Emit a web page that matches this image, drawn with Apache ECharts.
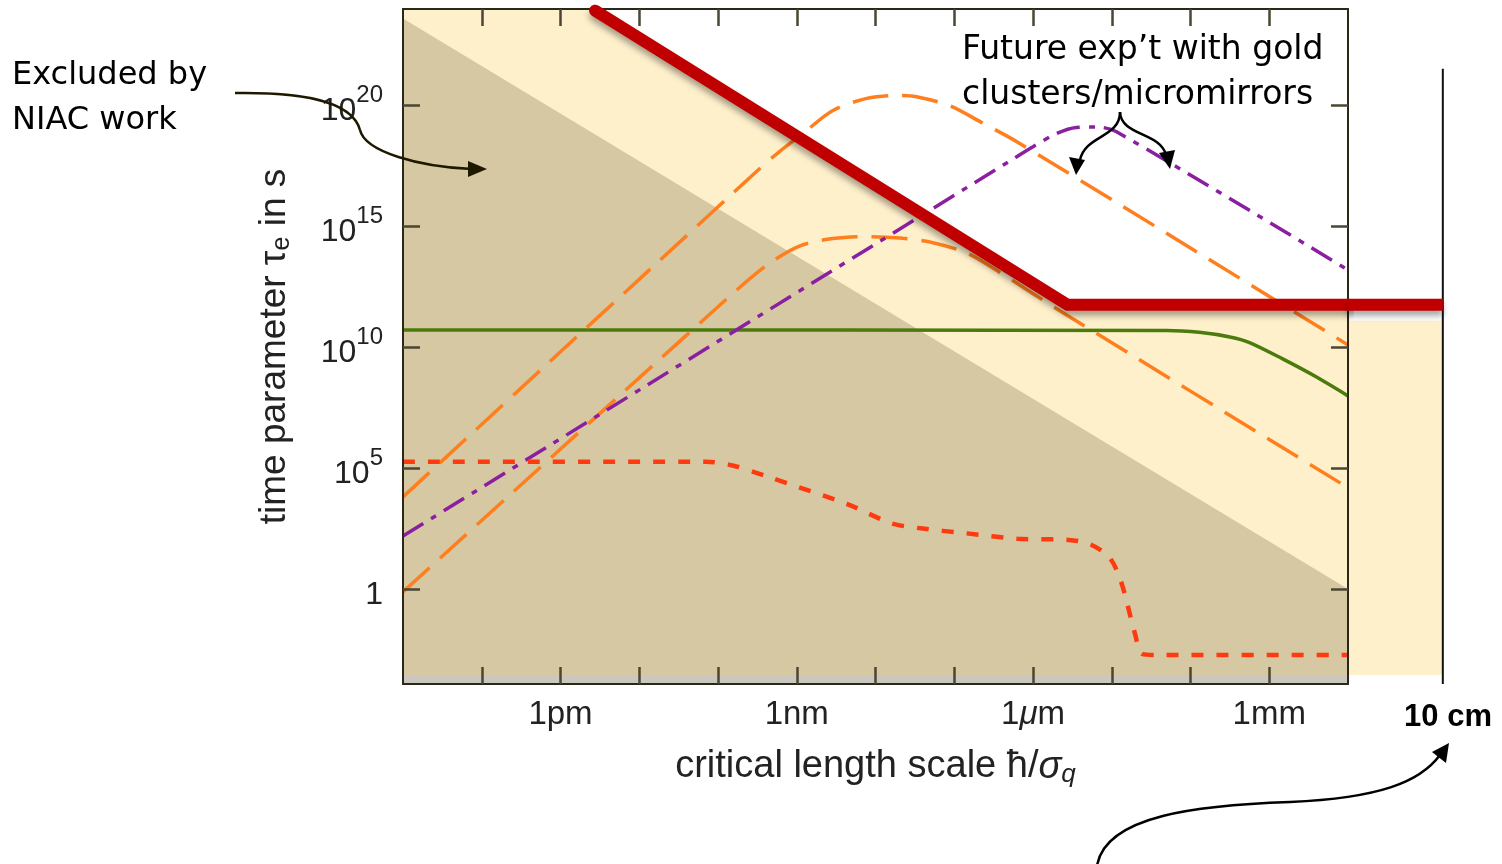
<!DOCTYPE html>
<html>
<head>
<meta charset="utf-8">
<script src="https://cdn.jsdelivr.net/npm/echarts@6/dist/echarts.min.js"></script>
<style>
  html, body { margin: 0; padding: 0; background: #fff; }
  #chart { width: 1502px; height: 864px; }
</style>
</head>
<body>
<div id="chart"></div>
<script>
// axis ranges: critical length in m, time in s
const xRange = [1e-14, 1e-2];
const yRange = [1.17e-4, 1e24];
const xTickValues = [1e-13, 1e-12, 1e-11, 1e-10, 1e-9, 1e-8, 1e-7, 1e-6, 1e-5, 1e-4, 1e-3];
const xLabelValues = [1e-12, 1e-9, 1e-6, 1e-3];
const xLabelNames = ['1pm', '1nm', '1{i|μ}m', '1mm'];
const yTickValues = [1, 1e5, 1e10, 1e15, 1e20];

// shaded regions
const excludedEdge = [[1e-14, 4e23], [1e-2, 1]];
const allowedEdge = [[1e-14, 1e24], [2.6e-12, 1e24], [2.75e-6, 5.75e11], [1e-2, 5.75e11]];
const floorBand = [[1e-14, 2.75e-4], [1e-2, 2.75e-4]];

// thick red bound (NIAC) and its extension out to 10 cm
const niacBound = [[2.75e-12, 8.5e23], [2.75e-6, 5.75e11], [1e-2, 5.75e11]];
const niacBoundExt = [[1e-2, 5.75e11], [0.16, 5.75e11]];
const allowedExt = [[1e-2, 1.26e11], [0.16, 1.26e11]];
const edgeLine = [[0.16, 3.4e21], [0.16, 1.17e-4]];

// curves
const greenCurve = [
  [1e-14, 5.25e10], [5.01e-5, 5.01e10], [1.29e-4, 4.17e10], [3.16e-4, 2.69e10],
  [5.62e-4, 1.58e10], [1.48e-3, 3.31e9], [3.98e-3, 5.89e8], [1e-2, 9.77e7]
];
const redDotted = [
  [1e-14, 1.86e5], [7.08e-11, 1.86e5], [1.58e-10, 1.26e5], [3.98e-10, 4.79e4],
  [4.47e-9, 3.16e3], [1.58e-8, 525], [3.55e-8, 331], [1.45e-7, 200],
  [6.31e-7, 120], [2.82e-6, 107], [5.25e-6, 72.4], [9.33e-6, 20.4],
  [1.32e-5, 1.91], [1.95e-5, 0.0162], [2.45e-5, 2.04e-3], [3.55e-5, 1.86e-3],
  [1e-2, 1.86e-3]
];
const orangeUpper = [
  [1e-14, 6.46e3], [3.16e-10, 2.04e17], [6.03e-10, 1.26e18], [1.2e-9, 7.08e18],
  [2.88e-9, 6.31e19], [7.76e-9, 2e20], [2.04e-8, 2.63e20], [3.31e-8, 2.34e20],
  [8.71e-8, 1e20], [2.29e-7, 1.91e19], [6.31e-7, 3.16e18], [1e-2, 1.26e10]
];
const orangeLower = [
  [1e-14, 0.76], [1.29e-10, 1e12], [4.17e-10, 2.51e13], [1.1e-9, 1.58e14],
  [2.88e-9, 3.16e14], [7.76e-9, 3.8e14], [2.04e-8, 3.31e14], [5.37e-8, 2.14e14],
  [1.45e-7, 7.94e13], [3.8e-7, 1.26e13], [1e-6, 1.66e12], [3.16e-6, 1.55e11],
  [1e-2, 1.55e4]
];
const purpleCurve = [
  [1e-14, 155], [5.01e-7, 5.01e17], [1e-6, 2e18], [2e-6, 7.08e18],
  [3.55e-6, 1.26e19], [6.31e-6, 1.32e19], [1.15e-5, 8.32e18], [1e-2, 1.58e13]
];

const FONT = "'Liberation Sans', Arial, sans-serif";
const NOTE_FONT = "'DejaVu Sans', Verdana, sans-serif";
const frameLine = { color: '#2b2719', width: 2 };
const tickLine = { color: '#4b4533', width: 2.5 };

const chart = echarts.init(document.getElementById('chart'));

function curve(data, color, width, dash) {
  return {
    type: 'line', data: data, xAxisIndex: 0, yAxisIndex: 0,
    symbol: 'none', smooth: 0.3, silent: true, z: 3,
    lineStyle: { color: color, width: width, type: dash, cap: 'butt' }
  };
}

function band(data, color, axisIdx) {
  return {
    type: 'line', data: data, xAxisIndex: axisIdx, yAxisIndex: axisIdx,
    symbol: 'none', silent: true, z: 1,
    lineStyle: { width: 0, opacity: 0 },
    areaStyle: { color: color, opacity: 1, origin: 'start' }
  };
}

function xLabel(v) {
  const i = xLabelValues.findIndex(t => Math.abs(Math.log10(t) - Math.log10(v)) < 0.01);
  return i >= 0 ? xLabelNames[i] : '';
}

function yLabel(v) {
  const e = Math.round(Math.log10(v));
  return e === 0 ? '{b|1}' : '{b|10}{s|' + e + '}';
}

const option = {
  animation: false,
  backgroundColor: '#fff',
  grid: [
    { left: 403, right: 154, top: 9, bottom: 180, outerBoundsMode: 'none' },
    { left: 1348, right: 40, top: 9, bottom: 189, outerBoundsMode: 'none' }
  ],
  xAxis: [
    {
      type: 'log', gridIndex: 0, position: 'bottom', min: xRange[0], max: xRange[1], z: 4,
      axisLine: { show: true, onZero: false, lineStyle: frameLine },
      axisTick: { show: true, inside: true, length: 17, customValues: xTickValues, lineStyle: tickLine },
      minorTick: { show: false },
      splitLine: { show: false },
      axisLabel: {
        customValues: xLabelValues, formatter: xLabel, margin: 14,
        fontSize: 33, fontFamily: FONT, color: '#222',
        rich: { i: { fontSize: 33, fontFamily: FONT, fontStyle: 'italic', color: '#222' } }
      },
      name: '{t|critical length scale ħ/}{i|σ}{q|q}',
      nameLocation: 'middle', nameGap: 62, nameMoveOverlap: false,
      nameTextStyle: {
        fontSize: 38, fontFamily: FONT, color: '#222', lineHeight: 42,
        rich: {
          t: { fontSize: 38, fontFamily: FONT, color: '#222', lineHeight: 42 },
          i: { fontSize: 38, fontFamily: FONT, color: '#222', fontStyle: 'italic', lineHeight: 42 },
          q: { fontSize: 26, fontFamily: FONT, color: '#222', fontStyle: 'italic', lineHeight: 24, verticalAlign: 'bottom' }
        }
      }
    },
    {
      type: 'log', gridIndex: 0, position: 'top', min: xRange[0], max: xRange[1], z: 4,
      axisLine: { show: true, onZero: false, lineStyle: frameLine },
      axisTick: { show: true, inside: true, length: 17, customValues: xTickValues, lineStyle: tickLine },
      minorTick: { show: false },
      splitLine: { show: false },
      axisLabel: { show: false }
    },
    { type: 'log', gridIndex: 1, min: 1e-2, max: 0.2804, show: false }
  ],
  yAxis: [
    {
      type: 'log', gridIndex: 0, position: 'left', min: yRange[0], max: yRange[1], z: 4,
      axisLine: { show: true, onZero: false, lineStyle: frameLine },
      axisTick: { show: true, inside: true, length: 17, customValues: yTickValues, lineStyle: tickLine },
      minorTick: { show: false },
      splitLine: { show: false },
      axisLabel: {
        customValues: yTickValues, formatter: yLabel, margin: 20,
        rich: {
          b: { fontSize: 32, fontFamily: FONT, color: '#222', lineHeight: 44, verticalAlign: 'bottom' },
          s: { fontSize: 24, fontFamily: FONT, color: '#222', lineHeight: 14, verticalAlign: 'top' }
        }
      },
      name: '{t|time parameter τ}{e|e}{t| in s}',
      nameLocation: 'middle', nameGap: 108, nameMoveOverlap: false,
      nameTextStyle: {
        fontSize: 37, fontFamily: FONT, color: '#222', lineHeight: 40,
        rich: {
          t: { fontSize: 37, fontFamily: FONT, color: '#222', lineHeight: 40 },
          e: { fontSize: 25, fontFamily: FONT, color: '#222', lineHeight: 22, verticalAlign: 'bottom' }
        }
      }
    },
    {
      type: 'log', gridIndex: 0, position: 'right', min: yRange[0], max: yRange[1], z: 4,
      axisLine: { show: true, onZero: false, lineStyle: frameLine },
      axisTick: { show: true, inside: true, length: 17, customValues: yTickValues, lineStyle: tickLine },
      minorTick: { show: false },
      splitLine: { show: false },
      axisLabel: { show: false }
    },
    { type: 'log', gridIndex: 1, min: 2.75e-4, max: 1e24, show: false }
  ],
  series: [
    band(allowedEdge, '#fff0cc', 0),
    band(excludedEdge, '#d6c8a2', 0),
    band(floorBand, '#cbc7be', 0),
    band(allowedExt, '#fff0cc', 2),
    curve(greenCurve, '#4b7b0c', 3.5, 'solid'),
    curve(orangeUpper, '#ff7f1e', 3.5, [36, 14]),
    curve(orangeLower, '#ff7f1e', 3.5, [36, 14]),
    curve(purpleCurve, '#8a20a0', 3.5, [24, 9, 6, 9]),
    curve(redDotted, '#ff3a10', 4.5, [12, 13]),
    {
      type: 'line', data: niacBound, xAxisIndex: 0, yAxisIndex: 0,
      symbol: 'none', silent: true, z: 6,
      lineStyle: { color: '#c00000', width: 12, cap: 'round', join: 'miter',
        shadowColor: 'rgba(0,0,0,0.35)', shadowBlur: 6, shadowOffsetY: 5 }
    },
    {
      type: 'line', data: niacBoundExt, xAxisIndex: 2, yAxisIndex: 2,
      symbol: 'none', silent: true, z: 6, clip: false,
      lineStyle: { color: '#c00000', width: 12, cap: 'butt',
        shadowColor: 'rgba(0,0,0,0.35)', shadowBlur: 6, shadowOffsetY: 5 }
    },
    {
      type: 'line', data: edgeLine, xAxisIndex: 2, yAxisIndex: 2,
      symbol: 'none', silent: true, z: 5, clip: false,
      lineStyle: { color: '#111', width: 2 }
    }
  ],
  graphic: [
    { type: 'text', x: 12, y: 53, z: 100,
      style: { text: 'Excluded by\nNIAC work', fontSize: 32, fontFamily: NOTE_FONT, fill: '#000', lineHeight: 45, align: 'left', verticalAlign: 'top' } },
    { type: 'text', x: 962, y: 28, z: 100,
      style: { text: 'Future exp’t with gold\nclusters/micromirrors', fontSize: 33, fontFamily: NOTE_FONT, fill: '#000', lineHeight: 45, align: 'left', verticalAlign: 'top' } },
    { type: 'text', x: 1448, y: 717, z: 100,
      style: { text: '10 cm', fontSize: 31, fontFamily: FONT, fontWeight: 'bold', fill: '#000', align: 'center', verticalAlign: 'middle' } },
    // arrow to the excluded region
    { type: 'bezierCurve', z: 100, shape: { x1: 235, y1: 93, cpx1: 300, cpy1: 92, cpx2: 352, cpy2: 100, x2: 360, y2: 130 },
      style: { stroke: '#1e1800', lineWidth: 2.5, fill: null } },
    { type: 'bezierCurve', z: 100, shape: { x1: 360, y1: 130, cpx1: 365, cpy1: 152, cpx2: 420, cpy2: 167, x2: 472, y2: 169 },
      style: { stroke: '#1e1800', lineWidth: 2.5, fill: null } },
    { type: 'polygon', z: 100, shape: { points: [[487, 169], [468, 161], [468, 177]] }, style: { fill: '#1e1800' } },
    // forked arrows to the future experiment curves
    { type: 'bezierCurve', z: 100, shape: { x1: 1120, y1: 112, cpx1: 1120, cpy1: 138, cpx2: 1085, cpy2: 135, x2: 1080, y2: 160 },
      style: { stroke: '#000', lineWidth: 2.5, fill: null } },
    { type: 'polygon', z: 100, shape: { points: [[1076, 175], [1069, 157], [1085, 160]] }, style: { fill: '#000' } },
    { type: 'bezierCurve', z: 100, shape: { x1: 1120, y1: 112, cpx1: 1121, cpy1: 136, cpx2: 1160, cpy2: 132, x2: 1166, y2: 155 },
      style: { stroke: '#000', lineWidth: 2.5, fill: null } },
    { type: 'polygon', z: 100, shape: { points: [[1170, 169], [1159, 153], [1175, 150]] }, style: { fill: '#000' } },
    // arrow to the 10 cm label
    { type: 'bezierCurve', z: 100, shape: { x1: 1097, y1: 866, cpx1: 1105, cpy1: 815, cpx2: 1200, cpy2: 805, x2: 1290, y2: 802 },
      style: { stroke: '#000', lineWidth: 2.5, fill: null } },
    { type: 'bezierCurve', z: 100, shape: { x1: 1290, y1: 802, cpx1: 1380, cpy1: 798, cpx2: 1420, cpy2: 782, x2: 1440, y2: 755 },
      style: { stroke: '#000', lineWidth: 2.5, fill: null } },
    { type: 'polygon', z: 100, shape: { points: [[1449, 743], [1432, 752], [1446, 763]] }, style: { fill: '#000' } }
  ]
};

chart.setOption(option);
</script>
</body>
</html>
